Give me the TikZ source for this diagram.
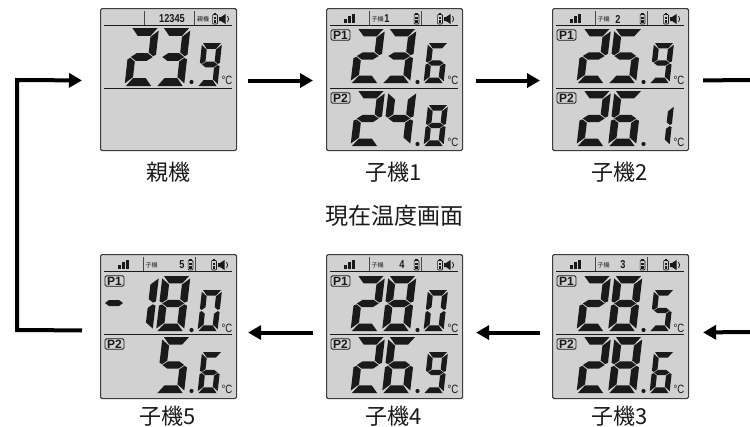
\documentclass[tikz,border=0pt]{standalone}
\usepackage{fontspec}
\setmainfont{Noto Sans CJK JP}
\newfontfamily\lat{Liberation Sans}
\newfontfamily\latn[FakeStretch=0.8]{Liberation Sans}
\usetikzlibrary{arrows.meta}
\definecolor{lcdbg}{HTML}{D1D1D1}
\definecolor{ink}{HTML}{1A1A1A}
\tikzset{
  panelbox/.style={draw=ink!85,line width=1.1pt,fill=lcdbg,rounded corners=1.5pt,minimum width=136pt,anchor=north west,inner sep=0pt},
  caption/.style={font=\fontsize{22}{24}\selectfont,text=ink,inner sep=0pt},
  arr/.style={line width=4pt,draw=black,-{Triangle[length=13pt,width=14pt]}},
  arrplain/.style={line width=4pt,draw=black},
  rule/.style={line width=1pt,draw=ink},
  thinrule/.style={line width=0.7pt,draw=ink!80},
  pbox/.style={draw=ink,line width=0.9pt,rounded corners=1.5pt,minimum width=19pt,minimum height=10.5pt,inner sep=0pt,font=\lat\bfseries\fontsize{12}{12}\selectfont,text=ink},
  degc/.style={font=\latn\fontsize{12}{12}\selectfont,text=ink,inner sep=0pt},
  tinylab/.style={font=\fontsize{6}{6}\selectfont,text=ink,inner sep=0pt},
  numlab/.style={font=\latn\bfseries\fontsize{11.5}{11.5}\selectfont,text=ink,inner sep=0pt},
}
% seven segments in a unit cell
\newcommand\lcdsega{\fill[ink] (0.05,0)--(0.95,0)--(0.73,0.135)--(0.27,0.135)--cycle;}
\newcommand\lcdsegd{\fill[ink] (0.05,1)--(0.95,1)--(0.73,0.865)--(0.27,0.865)--cycle;}
\newcommand\lcdsegf{\fill[ink] (0,0.045)--(0.27,0.155)--(0.27,0.42)--(0.1,0.485)--(0,0.46)--cycle;}
\newcommand\lcdsegb{\fill[ink] (1,0.045)--(0.73,0.155)--(0.73,0.42)--(0.9,0.485)--(1,0.46)--cycle;}
\newcommand\lcdsege{\fill[ink] (0,0.955)--(0.27,0.845)--(0.27,0.58)--(0.1,0.515)--(0,0.54)--cycle;}
\newcommand\lcdsegc{\fill[ink] (1,0.955)--(0.73,0.845)--(0.73,0.58)--(0.9,0.515)--(1,0.54)--cycle;}
\newcommand\lcdsegg{\fill[ink] (0.11,0.5)--(0.3,0.435)--(0.7,0.435)--(0.89,0.5)--(0.7,0.565)--(0.3,0.565)--cycle;}
\expandafter\def\csname lcdd0\endcsname{a,b,c,d,e,f}
\expandafter\def\csname lcdd1\endcsname{b,c}
\expandafter\def\csname lcdd2\endcsname{a,b,g,e,d}
\expandafter\def\csname lcdd3\endcsname{a,b,g,c,d}
\expandafter\def\csname lcdd4\endcsname{f,g,b,c}
\expandafter\def\csname lcdd5\endcsname{a,f,g,c,d}
\expandafter\def\csname lcdd6\endcsname{a,f,g,e,c,d}
\expandafter\def\csname lcdd8\endcsname{a,b,c,d,e,f,g}
\expandafter\def\csname lcdd9\endcsname{a,b,f,g,c,d}
% x y w h skew digit
\newcommand\lcd[6]{\begin{scope}[shift={(#1,#2)},x={(#3pt,0pt)},y={(-#5pt,-#4pt)}]
  \edef\lcdlist{\csname lcdd#6\endcsname}
  \foreach \lcds in \lcdlist {\csname lcdseg\lcds\endcsname}
\end{scope}}
% big big small digits, y-top, big H, small y, small H, dot y, degC name
\newcommand\reading[9]{%
  \if#1x\else\lcd{31}{#4}{28}{#5}{6.5}{#1}\fi
  \if#2x\else\lcd{62.5}{#4}{28}{#5}{6.5}{#2}\fi
  \lcd{102}{#6}{20}{#7}{4.5}{#3}
  \fill[ink] (91.5,#8) circle (2.1pt);
  \node[degc] (#9) at (127,\numexpr#8-2\relax) {°C};
}
\newcommand\batt[1]{\draw[ink,line width=0.7pt,fill=lcdbg,rounded corners=0.8pt] (#1-2.4,14.5) rectangle (#1+2.4,24);
  \fill[ink] (#1-1.2,13) rectangle (#1+1.2,15);
  \fill[ink] (#1-1.4,16.5) rectangle (#1+1.4,18.5);
  \fill[ink] (#1-1.4,20) rectangle (#1+1.4,23);}
\newcommand\spk[1]{\fill[ink] (#1-5,17)--(#1-3,17)--(#1+1.5,14)--(#1+1.5,24)--(#1-3,21)--(#1-5,21)--cycle;
  \draw[ink,line width=0.8pt] (#1+3.5,16) to[bend left=40] (#1+3.5,22);}
\newcommand\sigbars{\fill[ink] (18,19) rectangle (21.3,23); \fill[ink] (22,16) rectangle (25.3,23); \fill[ink] (26,14) rectangle (29.3,23);}
\newcommand\childtop[2]{%
  \sigbars
  \draw[thinrule] (43,11)--(43,25);
  \draw[thinrule] (95,11)--(95,25);
  \node[tinylab] (#1-t) at (51.5,19) {子機};
  \node[numlab] (#1-n) at (#2,19) {\addchild};
  \batt{90.5}
  \batt{114}
  \spk{123}
  \draw[rule] (4,25)--(132,25);
  \draw[rule] (4,88.5)--(132,88.5);
  \node[pbox] (#1-p1) at (14.5,35) {P1};
  \node[pbox] (#1-p2) at (14.5,98) {P2};
}
\begin{document}
\begin{tikzpicture}[x=1pt,y=-1pt]
\useasboundingbox (0,0) rectangle (750,426);
\fill[white] (0,0) rectangle (750,426);
% panels
\node[panelbox,minimum height=142pt] (p0) at (100,8) {};
\node[panelbox,minimum height=142pt] (p1) at (326,8) {};
\node[panelbox,minimum height=142pt] (p2) at (552,8) {};
\node[panelbox,minimum height=144pt] (p5) at (100,254) {};
\node[panelbox,minimum height=144pt] (p4) at (326,254) {};
\node[panelbox,minimum height=144pt] (p3) at (552,254) {};
% parent
\begin{scope}[shift={(100,0)}]
  \draw[thinrule] (44,11)--(44,25);
  \draw[thinrule] (94,11)--(94,25);
  \node[numlab] (p0-n) at (72,19) {12345};
  \node[tinylab] (p0-t) at (103,19.5) {親機};
  \batt{115}
  \spk{124}
  \draw[rule] (4,25)--(132,25);
  \draw[rule] (4,88)--(132,88);
  \reading{2}{3}{9}{28}{58}{43}{43}{82}{p0-c}
\end{scope}
% child 1
\begin{scope}[shift={(326,0)}]
  \def\addchild{1}\childtop{p1}{61}
  \reading{2}{3}{6}{29}{54}{43}{40}{82}{p1-c1}
  \reading{2}{4}{8}{91}{55}{105}{41}{144}{p1-c2}
\end{scope}
% child 2
\begin{scope}[shift={(552,0)}]
  \def\addchild{2}\childtop{p2}{66}
  \reading{2}{5}{9}{29}{54}{43}{40}{82}{p2-c1}
  \reading{2}{6}{1}{91}{55}{105}{41}{144}{p2-c2}
\end{scope}
% child 3
\begin{scope}[shift={(552,246)}]
  \def\addchild{3}\childtop{p3}{71}
  \reading{2}{8}{5}{30}{55}{44}{41}{84}{p3-c1}
  \reading{2}{8}{6}{91}{56}{106}{41}{145}{p3-c2}
\end{scope}
% child 4
\begin{scope}[shift={(326,246)}]
  \def\addchild{4}\childtop{p4}{76}
  \reading{2}{8}{0}{30}{55}{44}{41}{84}{p4-c1}
  \reading{2}{6}{9}{91}{56}{106}{41}{145}{p4-c2}
\end{scope}
% child 5
\begin{scope}[shift={(100,246)}]
  \def\addchild{5}\childtop{p5}{82}
  \reading{1}{8}{0}{30}{55}{44}{41}{84}{p5-c1}
  \reading{x}{5}{6}{91}{56}{106}{41}{145}{p5-c2}
  \fill[ink] (5,57)--(9,54)--(19,54)--(23,57)--(19,60)--(9,60)--cycle;
\end{scope}
% captions
\node[caption] (c0) at (168,172) {親機};
\node[caption] (c1) at (394,172) {子機1};
\node[caption] (c2) at (620,172) {子機2};
\node[caption] (c3) at (620,416) {子機3};
\node[caption] (c4) at (394,416) {子機4};
\node[caption] (c5) at (168,416) {子機5};
\node[caption,font=\fontsize{23}{24}\selectfont] (title) at (394,216) {現在温度画面};
% connectors
\coordinate (east1) at (750,80);
\coordinate (east2) at (750,332);
\coordinate (corner1) at (17,330);
\coordinate (corner2) at (17,80);
\draw[arr,shorten <=11pt,shorten >=13pt] ([yshift=-1pt]p0.east) -- ([yshift=-1pt]p1.west);
\draw[arr,shorten <=13pt,shorten >=12pt] ([yshift=-1pt]p1.east) -- ([yshift=-1pt]p2.west);
\draw[arrplain,shorten <=14pt] ([yshift=-1pt]p2.east) -- (east1);
\draw[arr,shorten >=14pt] (east2) -- ([yshift=-6pt]p3.east);
\draw[arr,shorten <=12pt,shorten >=13pt] ([yshift=-6pt]p3.west) -- ([yshift=-6pt]p4.east);
\draw[arr,shorten <=13pt,shorten >=11pt] ([yshift=-6pt]p4.west) -- ([yshift=-6pt]p5.east);
\draw[arr,line join=miter,shorten <=18pt,shorten >=18pt] ([yshift=-4pt]p5.west) -- (corner1) -- (corner2) -- ([yshift=-1pt]p0.west);
\end{tikzpicture}
\end{document}
